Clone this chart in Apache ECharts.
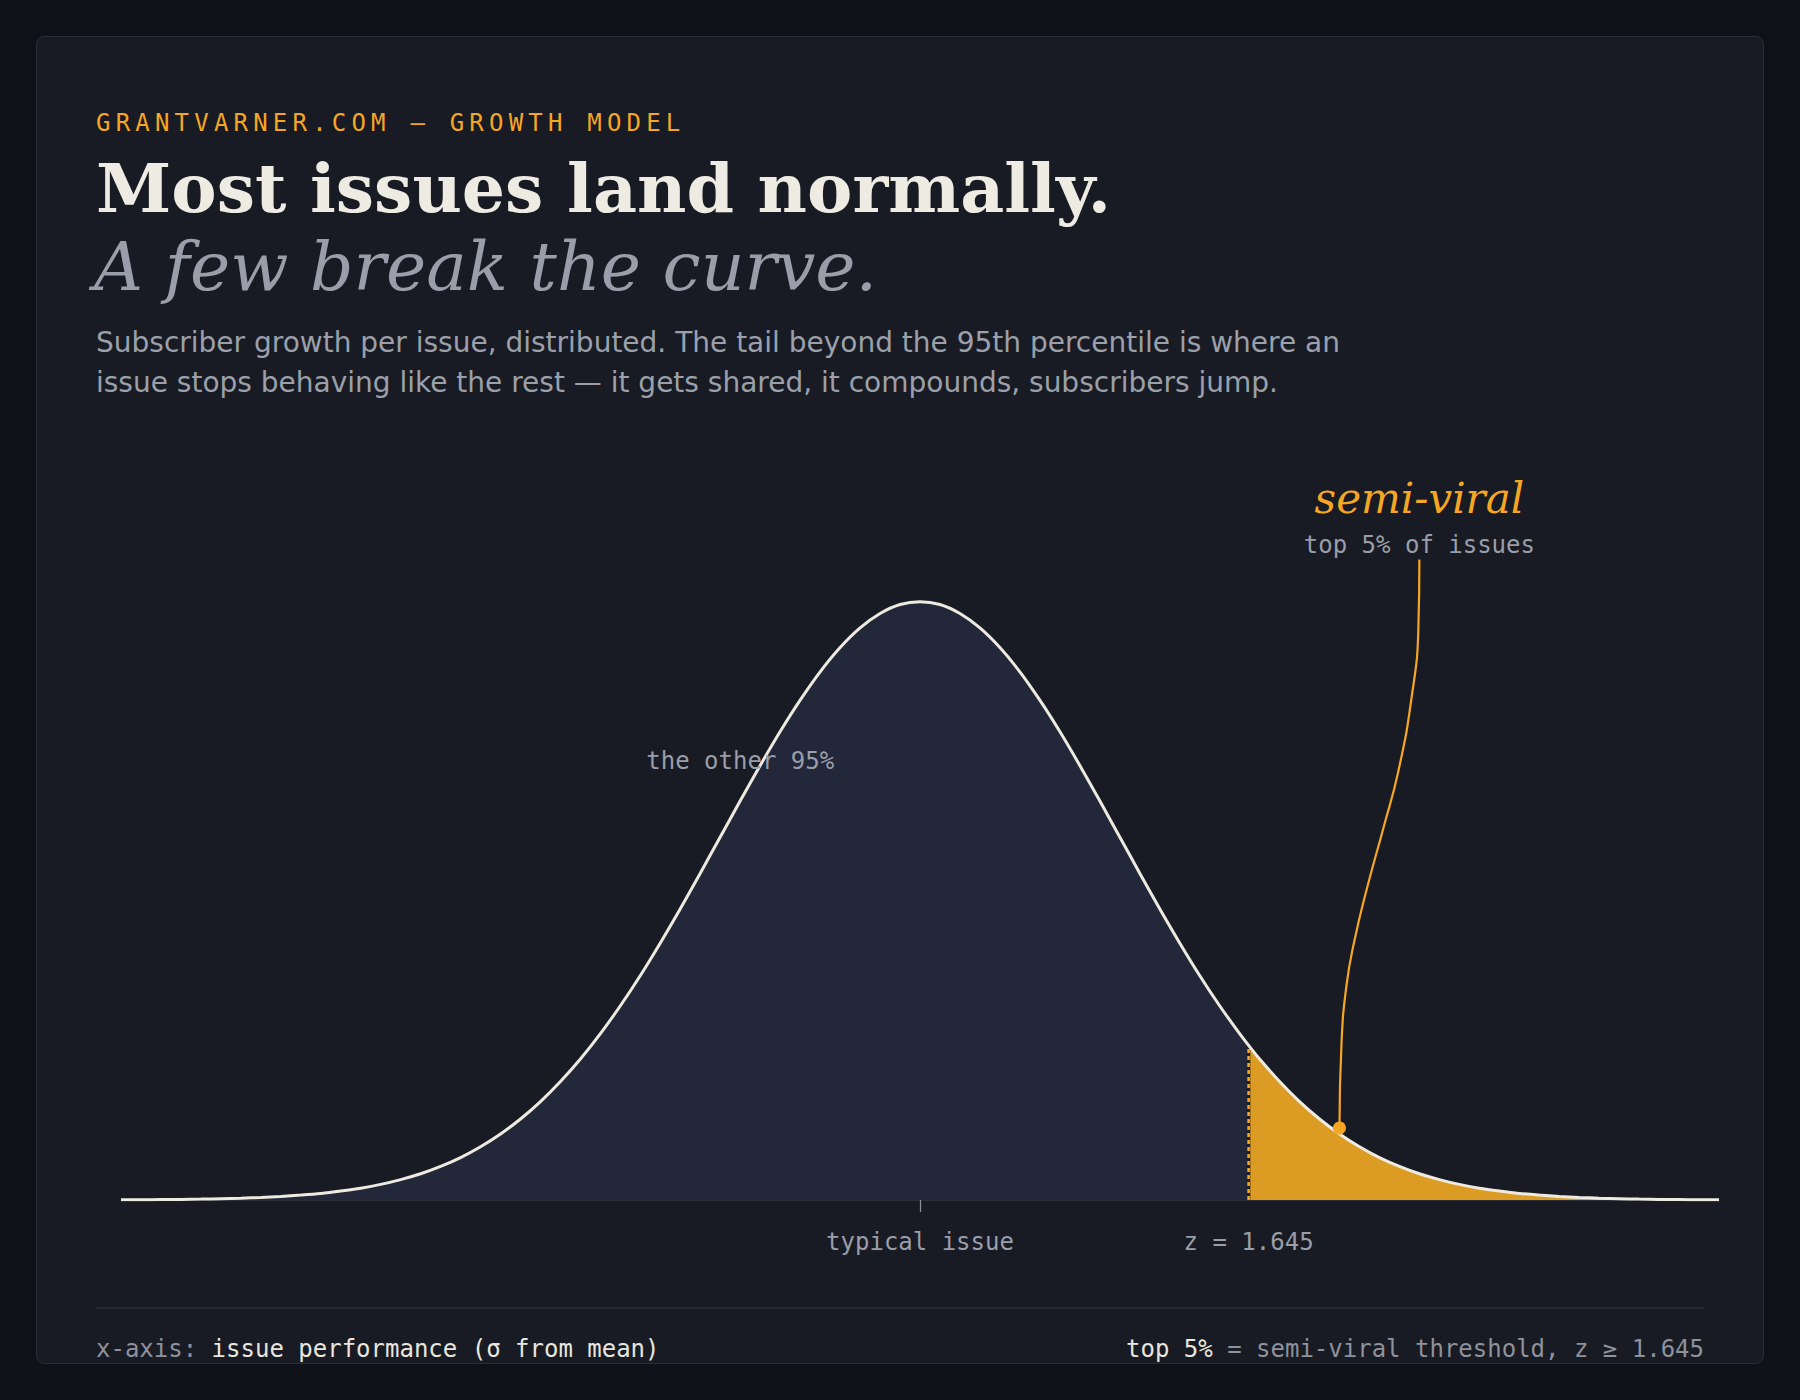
<!DOCTYPE html>
<html>
<head>
<meta charset="utf-8">
<script src="https://cdn.jsdelivr.net/npm/echarts@6/dist/echarts.min.js"></script>
<style>
  html, body { margin:0; padding:0; background:#0e1118; width:1800px; height:1400px; overflow:hidden; }
  #card { position:absolute; left:36px; top:36px; width:1728px; height:1328px; box-sizing:border-box;
          background:#181b23; border:1.5px solid #2a2e38; border-radius:8px; }
  #chart { position:absolute; left:0; top:0; width:1800px; height:1400px; }
  .t { position:absolute; white-space:nowrap; line-height:1; pointer-events:none; }
  #eyebrow { left:96px; top:111px; font-family:"DejaVu Sans Mono", monospace; font-size:24px; letter-spacing:5.2px; color:#f5a623; }
  #title { left:96px; top:154px; font-family:"DejaVu Serif", serif; font-weight:bold; font-size:68px; color:#eeebe3; }
  #subtitle { left:94px; top:233px; font-family:"DejaVu Serif", serif; font-style:italic; font-size:68px; color:#9a9eaa; }
  #desc { left:96px; top:323px; font-family:"DejaVu Sans", sans-serif; font-size:28px; line-height:40px; color:#9ba0ab; }
  #rule { position:absolute; left:96px; top:1307px; width:1608px; height:2px; background:#262a34; }
  .foot { top:1337px; font-family:"DejaVu Sans Mono", monospace; font-size:24px; color:#8d929c; }
  .foot b { font-weight:normal; color:#e8e6df; }
  #footL { left:96px; }
  #footR { right:96px; }
</style>
</head>
<body>
<div id="card"></div>
<div id="chart"></div>
<div class="t" id="eyebrow">GRANTVARNER.COM — GROWTH MODEL</div>
<div class="t" id="title">Most issues land normally.</div>
<div class="t" id="subtitle">A few break the curve.</div>
<div class="t" id="desc">Subscriber growth per issue, distributed. The tail beyond the 95th percentile is where an<br>issue stops behaving like the rest — it gets shared, it compounds, subscribers jump.</div>
<div id="rule"></div>
<div class="t foot" id="footL">x-axis: <b>issue performance (σ from mean)</b></div>
<div class="t foot" id="footR"><b>top 5%</b> = semi-viral threshold, z ≥ 1.645</div>
<script>
// ---- data ----
const zValues = [-4.0,-3.9,-3.8,-3.7,-3.6,-3.5,-3.4,-3.3,-3.2,-3.1,-3.0,-2.9,-2.8,-2.7,-2.6,-2.5,-2.4,-2.3,-2.2,-2.1,
  -2.0,-1.9,-1.8,-1.7,-1.6,-1.5,-1.4,-1.3,-1.2,-1.1,-1.0,-0.9,-0.8,-0.7,-0.6,-0.5,-0.4,-0.3,-0.2,-0.1,
  0.0,0.1,0.2,0.3,0.4,0.5,0.6,0.7,0.8,0.9,1.0,1.1,1.2,1.3,1.4,1.5,1.6,1.7,1.8,1.9,
  2.0,2.1,2.2,2.3,2.4,2.5,2.6,2.7,2.8,2.9,3.0,3.1,3.2,3.3,3.4,3.5,3.6,3.7,3.8,3.9,4.0];
const density = [0.0001,0.0002,0.0003,0.0004,0.0006,0.0009,0.0012,0.0017,0.0024,0.0033,0.0044,0.0060,0.0079,0.0104,0.0136,0.0175,0.0224,0.0283,0.0355,0.0440,
  0.0540,0.0656,0.0790,0.0940,0.1109,0.1295,0.1497,0.1714,0.1942,0.2179,0.2420,0.2661,0.2897,0.3123,0.3332,0.3521,0.3683,0.3814,0.3910,0.3970,
  0.3989,0.3970,0.3910,0.3814,0.3683,0.3521,0.3332,0.3123,0.2897,0.2661,0.2420,0.2179,0.1942,0.1714,0.1497,0.1295,0.1109,0.0940,0.0790,0.0656,
  0.0540,0.0440,0.0355,0.0283,0.0224,0.0175,0.0136,0.0104,0.0079,0.0060,0.0044,0.0033,0.0024,0.0017,0.0012,0.0009,0.0006,0.0004,0.0003,0.0002,0.0001];
const threshold = { z: 1.645, density: 0.1031 };
const tickLabels = { 0: 'typical issue', 1.645: 'z = 1.645' };
const leaderX = [2.10, 2.11, 2.135, 2.175, 2.24, 2.32, 2.395, 2.46, 2.495, 2.50];
const leaderY = [0.048, 0.104, 0.143, 0.173, 0.209, 0.248, 0.286, 0.334, 0.381, 0.427];
const calloutTitle = { z: 2.5, y: 0.468, text: 'semi-viral' };
const calloutSub = { z: 2.5, y: 0.437, text: 'top 5% of issues' };
const bodyLabel = { z: -0.9, y: 0.293, text: 'the other 95%' };
const dotPoint = [2.1, 0.048];

// ---- build series data ----
const full = [];
zValues.forEach((z, i) => {
  if (z > threshold.z && full.length && full[full.length - 1][0] < threshold.z) full.push([threshold.z, threshold.density]);
  full.push([z, density[i]]);
});
const bodyPart = full.filter(p => p[0] <= threshold.z);
const tailPart = full.filter(p => p[0] >= threshold.z);
const leader = leaderX.map((x, i) => [x, leaderY[i]]);

const mono = '"DejaVu Sans Mono", monospace';
const chart = echarts.init(document.getElementById('chart'), null, { renderer: 'svg' });
chart.setOption({
  backgroundColor: 'transparent',
  animation: false,
  grid: { left: 121, right: 81, top: 420, bottom: 200 },
  xAxis: {
    type: 'value', min: -4, max: 4,
    axisLine: { show: true, lineStyle: { color: '#2a2e38', width: 1 } },
    axisTick: { show: true, customValues: [0], length: 12, lineStyle: { color: '#8b909b', width: 1.2 } },
    axisLabel: { show: true, customValues: [0, threshold.z], margin: 30,
      formatter: v => tickLabels[v] || '', fontFamily: mono, fontSize: 24, color: '#9a9eaa' },
    splitLine: { show: false }
  },
  yAxis: { type: 'value', min: 0, max: 0.52, show: false, splitLine: { show: false } },
  series: [
    { name: 'body', type: 'line', data: bodyPart, smooth: 0.3, symbol: 'none',
      lineStyle: { width: 0 }, areaStyle: { color: '#222739', opacity: 1 }, z: 1 },
    { name: 'tail', type: 'line', data: tailPart, smooth: 0.3, symbol: 'none',
      lineStyle: { width: 0 }, areaStyle: { color: '#dc9b22', opacity: 1 }, z: 2 },
    { name: 'thresholdBack', type: 'line', data: [[threshold.z, 0], [threshold.z, threshold.density]], symbol: 'none',
      lineStyle: { color: '#1b1e27', width: 3.5 }, z: 3 },
    { name: 'threshold', type: 'line', data: [[threshold.z, 0], [threshold.z, threshold.density]], symbol: 'none',
      lineStyle: { color: '#f5a623', width: 2.6, type: [4, 3] }, z: 4 },
    { name: 'curve', type: 'line', data: full, smooth: 0.3, symbol: 'none',
      lineStyle: { color: '#eeeae0', width: 3 }, z: 5 },
    { name: 'leader', type: 'line', data: leader, smooth: 0.5, symbol: 'none',
      lineStyle: { color: '#f5a623', width: 2.2 }, z: 6 },
    { name: 'dot', type: 'scatter', data: [dotPoint], symbolSize: 13, itemStyle: { color: '#f5a623', opacity: 1 }, z: 7 },
    { name: 'labels', type: 'scatter', symbolSize: 0, z: 8,
      itemStyle: { color: 'transparent', opacity: 1 },
      data: [
        { value: [calloutTitle.z, calloutTitle.y], label: { formatter: calloutTitle.text, fontFamily: '"DejaVu Serif", serif', fontStyle: 'italic', fontSize: 42, color: '#f5a623' } },
        { value: [calloutSub.z, calloutSub.y], label: { formatter: calloutSub.text, fontFamily: mono, fontSize: 24, color: '#9a9eaa' } },
        { value: [bodyLabel.z, bodyLabel.y], label: { formatter: bodyLabel.text, fontFamily: mono, fontSize: 24, color: '#9a9eaa' } }
      ],
      label: { show: true, opacity: 1, position: 'inside', align: 'center', verticalAlign: 'middle', textBorderWidth: 0, textBorderColor: 'transparent' }
    }
  ]
});
</script>
</body>
</html>
